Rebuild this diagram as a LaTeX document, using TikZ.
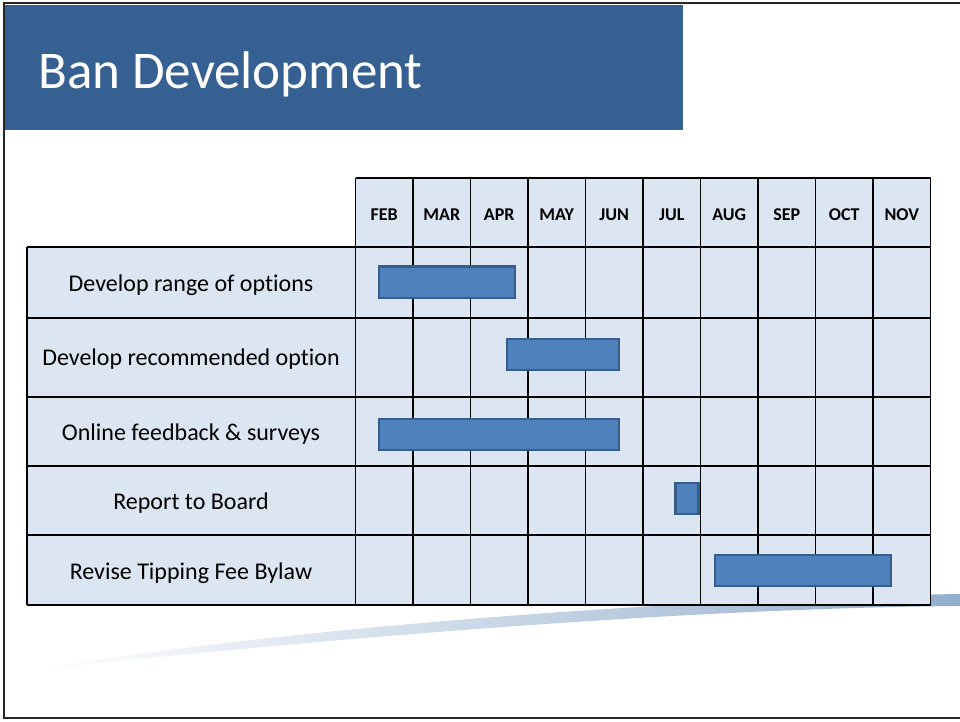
\documentclass[tikz,border=0pt]{standalone}
\usepackage{fontspec}
\setmainfont{Carlito}[Ligatures=NoCommon]
\definecolor{titleblue}{RGB}{55,96,146}
\definecolor{cellblue}{RGB}{220,230,242}
\definecolor{barblue}{RGB}{79,129,189}
\definecolor{bardark}{RGB}{56,93,138}
\definecolor{swooshblue}{RGB}{147,174,205}
\begin{document}
\begin{tikzpicture}[x=1pt,y=-1pt]
    \tikzstyle{every node}+=[inner sep=0pt]
    \tikzstyle{bar}=[fill=barblue,draw=bardark,line width=2.5pt]
    \tikzstyle{month}=[font=\bfseries\fontsize{18}{21}\selectfont]
    \tikzstyle{task}=[font=\fontsize{24}{28}\selectfont]
    \useasboundingbox (0,0) rectangle (960,721);
    \draw [black!85,line width=2pt] (960,3) -- (4,3) -- (4,718) -- (960,718);
    \shade [left color=white,right color=swooshblue] (33,670) .. controls (300,625) and (700,598) .. (960,594) -- (960,606) .. controls (800,607) and (500,620) .. (33,670) -- cycle;
    \fill [titleblue] (5,5) rectangle (683,130);
    \node [anchor=base west,text=white,font=\fontsize{53}{58}\selectfont] (title) at (38,88) {Ban Development};
    \fill [cellblue] (355.5,178) rectangle (930.5,247);
    \fill [cellblue] (27,247) rectangle (930.5,605);
    \draw [black,line width=1.2pt] (355.5,178) -- (930.5,178);
    \foreach \y in {247,318,397,466,535}
        \draw [black,line width=1.2pt] (27,\y) -- (930.5,\y);
    \draw [black,line width=1.6pt] (27,605) -- (930.5,605);
    \draw [black,line width=1.2pt] (27,247) -- (27,605);
    \foreach \i in {0,...,10}
        \draw [black,line width=1.2pt] ({355.5+57.5*\i},178) -- ({355.5+57.5*\i},605);
    \foreach \m [count=\i] in {FEB,MAR,APR,MAY,JUN,JUL,AUG,SEP,OCT,NOV}
        \node [month] (m\i) at ({355.5+57.5*(\i-0.5)},214.5) {\m};
    \node [task] (range) at (191,285) {Develop range of options};
    \node [task] (recommended) at (191,359.5) {Develop recommended option};
    \node [task] (feedback) at (191,434) {Online feedback \& surveys};
    \node [task] (board) at (191,503) {Report to Board};
    \node [task] (bylaw) at (191,573) {Revise Tipping Fee Bylaw};
    \draw [bar] (379,266.5) rectangle (515,298);
    \draw [bar] (507,339) rectangle (619,370);
    \draw [bar] (379,419) rectangle (619,450);
    \draw [bar] (675.5,483) rectangle (698.5,514);
    \draw [bar] (715,555) rectangle (891,586);
\end{tikzpicture}
\end{document}
